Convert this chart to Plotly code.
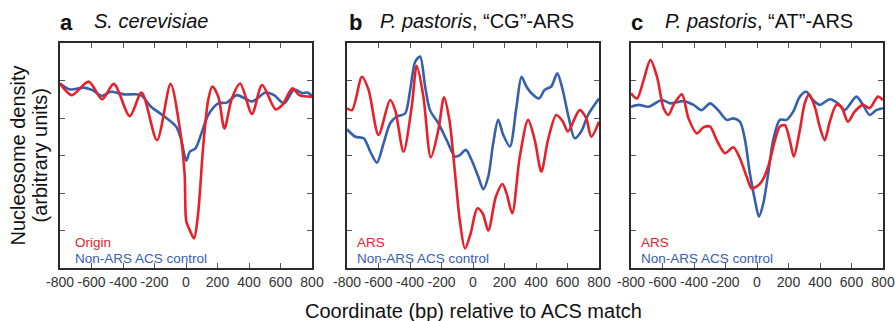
import plotly.graph_objects as go

# ---- data: nucleosome density profiles around ACS matches ----
# panel a: S. cerevisiae
a_origin_x = [-800, -725, -618, -533, -458, -357, -282, -184, -98, -41, -9, 2, 24, 51, 77, 109,
              141, 167, 205, 244, 291, 344, 419, 483, 569, 612, 676, 719, 800]
a_origin_y = [4.92, 4.61, 4.97, 4.50, 4.91, 4.05, 4.68, 3.41, 4.91, 3.77, 2.52, 1.24, 1.01, 0.79, 1.46, 3.24,
              4.48, 4.84, 4.57, 3.72, 4.52, 4.92, 4.11, 4.88, 4.23, 4.35, 4.79, 4.61, 4.57]
a_ctrl_x = [-800, -736, -650, -597, -533, -479, -394, -287, -222, -137, -62, -30, 2, 24, 60, 98,
            141, 205, 259, 323, 419, 505, 559, 623, 687, 740, 772, 800]
a_ctrl_y = [4.92, 4.76, 4.81, 4.75, 4.59, 4.70, 4.63, 4.61, 4.30, 4.04, 3.77, 3.41, 2.86, 3.10, 3.19, 3.59,
            4.08, 4.39, 4.41, 4.61, 4.44, 4.68, 4.61, 4.39, 4.76, 4.66, 4.68, 4.59]

# panel b: P. pastoris, "CG"-ARS
b_ars_x = [-800, -768, -705, -663, -600, -526, -494, -441, -389, -357, -315, -268, -220, -184, -150,
           -114, -83, -51, -15, 27, 61, 97, 145, 187, 213, 249, 297, 350, 392, 434, 476, 529, 571,
           603, 677, 719, 751, 800]
b_ars_y = [4.26, 4.21, 5.10, 4.75, 3.55, 4.48, 4.21, 3.10, 4.30, 5.39, 4.57, 2.95, 3.68, 4.55, 3.95,
           2.52, 1.24, 0.52, 0.92, 1.59, 1.46, 1.00, 1.90, 2.24, 1.99, 1.46, 2.97, 3.95, 3.41, 2.57,
           3.41, 4.08, 3.90, 3.64, 4.21, 3.99, 3.50, 3.90]
b_ctrl_x = [-800, -747, -694, -652, -610, -568, -526, -484, -431, -399, -367, -336, -304, -273, -220,
            -167, -114, -83, -45, -9, 33, 65, 97, 128, 160, 192, 234, 276, 308, 339, 371, 419, 455,
            497, 535, 567, 609, 645, 687, 730, 800]
b_ctrl_y = [3.70, 3.50, 3.46, 3.10, 2.81, 3.32, 3.86, 4.04, 4.12, 4.75, 5.50, 5.64, 4.84, 4.21, 3.86,
            3.41, 2.97, 3.01, 3.15, 2.88, 2.44, 2.10, 2.44, 3.32, 3.95, 3.55, 3.24, 4.30, 5.10, 4.84,
            4.66, 4.52, 4.75, 4.84, 5.19, 4.79, 3.99, 3.46, 3.64, 4.08, 4.52]

# panel c: P. pastoris, "AT"-ARS
c_ars_x = [-800, -762, -720, -677, -635, -593, -562, -530, -477, -435, -382, -340, -298, -256, -203,
           -150, -108, -66, -34, -3, 29, 71, 114, 145, 177, 208, 234, 272, 303, 331, 367, 398, 430,
           462, 504, 535, 578, 620, 673, 715, 768, 800]
c_ars_y = [4.66, 4.52, 5.01, 5.55, 5.10, 4.26, 4.08, 4.35, 4.63, 3.99, 3.59, 3.75, 3.77, 3.41, 3.06,
           3.22, 2.92, 2.44, 2.12, 2.17, 2.30, 2.70, 3.41, 3.77, 3.81, 3.41, 2.97, 3.68, 4.39, 4.63,
           4.30, 3.77, 3.41, 3.90, 4.35, 4.30, 3.90, 4.17, 4.35, 4.26, 4.57, 4.48]
c_ctrl_x = [-800, -751, -688, -604, -551, -467, -403, -351, -298, -245, -192, -150, -108, -76, -45,
            -13, 12, 40, 71, 103, 145, 187, 230, 272, 314, 346, 398, 462, 514, 557, 631, 673, 715,
            757, 800]
c_ctrl_y = [4.30, 4.35, 4.30, 4.48, 4.39, 4.45, 4.35, 4.21, 4.39, 4.20, 3.95, 3.99, 3.90, 3.41, 2.52,
            1.81, 1.37, 1.72, 2.52, 3.41, 3.95, 3.95, 4.17, 4.57, 4.70, 4.52, 4.35, 4.50, 4.39, 4.21,
            4.57, 4.35, 4.08, 4.21, 4.26]

x_ticks = [-800, -600, -400, -200, 0, 200, 400, 600, 800]
y_ticks = [1, 2, 3, 4, 5]

panel_letters = ["a", "b", "c"]
panel_titles = ["<i>S. cerevisiae</i>",
                "<i>P. pastoris</i>, \u201cCG\u201d-ARS",
                "<i>P. pastoris</i>, \u201cAT\u201d-ARS"]
red_labels = ["Origin", "ARS", "ARS"]
blue_label = "Non-ARS ACS control"

RED = "#e8202a"
BLUE = "#3560ae"
FONT = "Liberation Sans, Arial, Helvetica, sans-serif"
W, H = 895, 321

# panel frames in pixels (left, right), shared top/bottom
panels_px = [(60, 312), (347, 599), (631, 883)]
top_px, bottom_px = 43, 268

def px_x(p):
    return p / W

def px_y(p):
    return 1 - p / H

fig = go.Figure()

series = [
    (a_origin_x, a_origin_y, a_ctrl_x, a_ctrl_y),
    (b_ars_x, b_ars_y, b_ctrl_x, b_ctrl_y),
    (c_ars_x, c_ars_y, c_ctrl_x, c_ctrl_y),
]

for i, (rx, ry, bx, by) in enumerate(series):
    suffix = "" if i == 0 else str(i + 1)
    fig.add_trace(go.Scatter(x=bx, y=by, mode="lines", xaxis="x" + suffix, yaxis="y" + suffix,
                             line=dict(color=BLUE, width=2.6, shape="spline", smoothing=0.8),
                             showlegend=False, hoverinfo="skip"))
    fig.add_trace(go.Scatter(x=rx, y=ry, mode="lines", xaxis="x" + suffix, yaxis="y" + suffix,
                             line=dict(color=RED, width=2.6, shape="spline", smoothing=0.8),
                             showlegend=False, hoverinfo="skip"))

    left, right = panels_px[i]
    axis_common = dict(showline=True, linecolor="#2b2b2b", linewidth=1.6, mirror="ticks",
                       ticks="inside", ticklen=5, tickwidth=1, tickcolor="#555",
                       showgrid=False, zeroline=False, automargin=False)
    fig.layout["xaxis" + suffix] = dict(
        domain=[px_x(left), px_x(right)], range=[-800, 800], tickvals=x_ticks,
        ticktext=[str(v) for v in x_ticks], anchor="y" + suffix,
        tickfont=dict(family=FONT, size=14, color="#333"), **axis_common)
    fig.layout["yaxis" + suffix] = dict(
        domain=[px_y(bottom_px), px_y(top_px)], range=[0, 6], tickvals=y_ticks,
        showticklabels=False, anchor="x" + suffix, **axis_common)

    letter_x = [58, 347, 629][i]
    title_x = [92, 378, 663][i]
    fig.add_annotation(x=px_x(letter_x), y=px_y(22), xref="paper", yref="paper",
                       text="<b>" + panel_letters[i] + "</b>", showarrow=False,
                       xanchor="left", yanchor="middle",
                       font=dict(family=FONT, size=22, color="#111"))
    fig.add_annotation(x=px_x(title_x), y=px_y(21), xref="paper", yref="paper",
                       text=panel_titles[i], showarrow=False,
                       xanchor="left", yanchor="middle",
                       font=dict(family=FONT, size=20, color="#111"))

    inset = 13 if i == 0 else 8
    fig.add_annotation(x=px_x(left + inset), y=px_y(242), xref="paper", yref="paper",
                       text=red_labels[i], showarrow=False, xanchor="left", yanchor="middle",
                       font=dict(family=FONT, size=13.5, color=RED))
    fig.add_annotation(x=px_x(left + inset), y=px_y(258), xref="paper", yref="paper",
                       text=blue_label, showarrow=False, xanchor="left", yanchor="middle",
                       font=dict(family=FONT, size=13.5, color=BLUE))

# shared axis titles
fig.add_annotation(x=px_x(17), y=px_y(155.5), xref="paper", yref="paper",
                   text="Nucleosome density", textangle=-90, showarrow=False,
                   xanchor="center", yanchor="middle", font=dict(family=FONT, size=20, color="#111"))
fig.add_annotation(x=px_x(39), y=px_y(155.5), xref="paper", yref="paper",
                   text="(arbitrary units)", textangle=-90, showarrow=False,
                   xanchor="center", yanchor="middle", font=dict(family=FONT, size=20, color="#111"))
fig.add_annotation(x=px_x(473), y=px_y(311), xref="paper", yref="paper",
                   text="Coordinate (bp) relative to ACS match", showarrow=False,
                   xanchor="center", yanchor="middle", font=dict(family=FONT, size=20, color="#111"))

fig.update_layout(width=W, height=H,
                  margin=dict(l=0, r=0, t=0, b=0, pad=0, autoexpand=False),
                  paper_bgcolor="white", plot_bgcolor="white")

fig.write_html("out.html")
